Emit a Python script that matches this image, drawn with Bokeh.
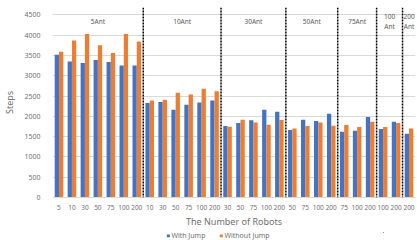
import numpy as np
from bokeh.plotting import figure
from bokeh.layouts import column
from bokeh.models import ColumnDataSource, Range1d, FixedTicker, SingleIntervalTicker, Span, Legend, LegendItem
from bokeh.transform import dodge
from bokeh.core.properties import value
from bokeh.embed import file_html
from bokeh.resources import INLINE

groups = ["5Ant", "10Ant", "30Ant", "50Ant", "75Ant", "100\nAnt", "200\nAnt"]
group_sizes = [7, 6, 5, 4, 3, 2, 1]
robots = ["5", "10", "30", "50", "75", "100", "200",
          "10", "30", "50", "75", "100", "200",
          "30", "50", "75", "100", "200",
          "50", "75", "100", "200",
          "75", "100", "200",
          "100", "200",
          "200"]
with_jump = [3515, 3350, 3310, 3385, 3335, 3250, 3250,
             2325, 2355, 2160, 2285, 2340, 2390,
             1760, 1835, 1900, 2160, 2110,
             1665, 1915, 1885, 2060,
             1620, 1645, 1985,
             1685, 1865,
             1570]
without_jump = [3590, 3865, 4030, 3750, 3560, 4025, 3840,
                2390, 2405, 2580, 2540, 2680, 2615,
                1745, 1915, 1845, 1795, 1910,
                1700, 1760, 1850, 1770,
                1785, 1735, 1865,
                1735, 1835,
                1700]
series_names = ["With Jump", "Without Jump"]
y_ticks_step = 500
y_max = 4680

BLUE = "#4472C4"
ORANGE = "#ED7D31"
TXT = "#707070"
FONT = "Noto Sans"

xs = list(range(len(robots)))
src = ColumnDataSource(dict(x=xs, wj=with_jump, woj=without_jump))

p = figure(width=417, height=230, output_backend="svg", toolbar_location=None,
           x_range=Range1d(-0.5, len(robots) - 0.5), y_range=Range1d(0, y_max),
           min_border_left=47, min_border_right=2, min_border_top=7, min_border_bottom=33)
p.outline_line_color = None
p.background_fill_color = "white"

p.vbar(x=dodge("x", -0.165, range=p.x_range), top="wj", width=0.33, source=src,
       fill_color=BLUE, line_color=None)
p.vbar(x=dodge("x", 0.165, range=p.x_range), top="woj", width=0.33, source=src,
       fill_color=ORANGE, line_color=None)

# group separators and labels
bounds = np.cumsum(group_sizes)
starts = np.concatenate([[0], bounds[:-1]])
for b in bounds[:-1]:
    p.add_layout(Span(location=b - 0.5, dimension="height", line_color="black",
                      line_dash="2 1", line_width=1.5))
centers = [(s + e - 1) / 2 for s, e in zip(starts, bounds)]
p.text(x=centers, y=[4330] * len(groups), text=groups, text_align="center",
       text_baseline="middle", text_font_size="6.5px", text_color="#595959",
       text_font=value(FONT), text_line_height=1.15)

# axes
p.xaxis.ticker = FixedTicker(ticks=xs)
p.xaxis.major_label_overrides = {i: r for i, r in enumerate(robots)}
p.xaxis.major_label_text_font_size = "6.5px"
p.xaxis.major_label_text_color = TXT
p.xaxis.major_label_text_font = FONT
p.xaxis.major_label_text_line_height = 0.9
p.xaxis.major_tick_line_color = None
p.xaxis.minor_tick_line_color = None
p.xaxis.axis_line_color = "#D9D9D9"
p.xaxis.major_label_standoff = 1
p.xaxis.axis_label = "The Number of Robots"
p.xaxis.axis_label_text_font_size = "9px"
p.xaxis.axis_label_text_font_style = "normal"
p.xaxis.axis_label_text_color = TXT
p.xaxis.axis_label_text_font = FONT
p.xaxis.axis_label_text_line_height = 0.9
p.xaxis.axis_label_standoff = 2

p.yaxis.ticker = SingleIntervalTicker(interval=y_ticks_step)
p.yaxis.major_label_text_font_size = "7px"
p.yaxis.major_label_text_color = TXT
p.yaxis.major_label_text_font = FONT
p.yaxis.major_tick_line_color = None
p.yaxis.minor_tick_line_color = None
p.yaxis.axis_line_color = None
p.yaxis.major_label_standoff = 6
p.yaxis.axis_label = "Steps"
p.yaxis.axis_label_text_font_size = "9px"
p.yaxis.axis_label_text_font_style = "normal"
p.yaxis.axis_label_text_color = TXT
p.yaxis.axis_label_text_font = FONT
p.yaxis.axis_label_standoff = 5

p.xgrid.grid_line_color = None
p.ygrid.grid_line_color = "#D9D9D9"
p.ygrid.grid_line_width = 1

# legend strip below the chart (its key renderers share the data but lie outside the strip's view)
lg = figure(width=385, height=10, output_backend="svg", toolbar_location=None,
            x_axis_type=None, y_axis_type=None,
            x_range=Range1d(-1000, -999), y_range=Range1d(-1000, -999),
            min_border_left=0, min_border_right=0, min_border_top=0, min_border_bottom=0)
lg.outline_line_color = None
lg.xgrid.grid_line_color = None
lg.ygrid.grid_line_color = None
k1 = lg.vbar(x="x", top="wj", width=0.33, source=src, fill_color=BLUE, line_color=None)
k2 = lg.vbar(x="x", top="woj", width=0.33, source=src, fill_color=ORANGE, line_color=None)
legend = Legend(items=[LegendItem(label=series_names[0], renderers=[k1]),
                       LegendItem(label=series_names[1], renderers=[k2])],
                orientation="horizontal", location="center",
                glyph_width=4, glyph_height=4, label_text_font_size="7px",
                label_text_color=TXT, label_text_font=FONT, spacing=13,
                padding=0, margin=0, label_standoff=2, border_line_color=None,
                label_height=8, background_fill_alpha=0)
lg.add_layout(legend, "center")

layout = column(p, lg, spacing=0)
open("out.html", "w").write(file_html(layout, INLINE))
